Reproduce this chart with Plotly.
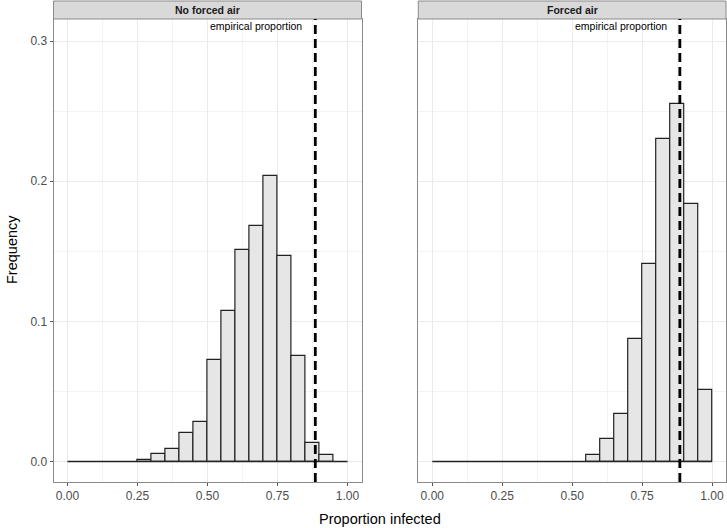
import plotly.graph_objects as go

bin_width = 0.05
bin_left_edges = [round(i * bin_width, 2) for i in range(20)]
freq_no_forced = [0, 0, 0, 0, 0, 0.0012, 0.0053, 0.0093, 0.0203, 0.0284,
                  0.0726, 0.1076, 0.151, 0.168, 0.204, 0.1467, 0.0755, 0.0134, 0.0046, 0]
freq_forced = [0, 0, 0, 0, 0, 0, 0, 0, 0, 0,
               0, 0.0048, 0.0164, 0.0336, 0.0876, 0.141, 0.230, 0.2553, 0.1838, 0.051]
empirical = 0.885
panel_titles = ["No forced air", "Forced air"]
x_ticks = [0, 0.25, 0.5, 0.75, 1.0]
x_tick_labels = ["0.00", "0.25", "0.50", "0.75", "1.00"]
y_ticks = [0, 0.1, 0.2, 0.3]
y_tick_labels = ["0.0", "0.1", "0.2", "0.3"]

W, H = 727, 528
fig = go.Figure()

panels = [(freq_no_forced, "x", "y"), (freq_forced, "x2", "y2")]
for freqs, xa, ya in panels:
    xs = [e + bin_width / 2 for e, f in zip(bin_left_edges, freqs) if f > 0]
    ys = [f for f in freqs if f > 0]
    fig.add_trace(go.Scatter(x=[bin_left_edges[0], bin_left_edges[-1] + bin_width], y=[0, 0],
                             mode="lines", line=dict(color="#222222", width=1.4),
                             xaxis=xa, yaxis=ya, showlegend=False, hoverinfo="skip"))
    fig.add_trace(go.Bar(x=xs, y=ys, width=bin_width,
                         marker=dict(color="#e6e6e6", line=dict(color="#222222", width=1.2)),
                         xaxis=xa, yaxis=ya, showlegend=False))

def px_x(p):
    return p / W

def px_y(p):
    return 1 - p / H

x_dom1 = [px_x(53.5), px_x(361.5)]
x_dom2 = [px_x(418.3), px_x(726)]
y_dom = [px_y(482), px_y(19)]

tick_font = dict(family="Liberation Sans, Arial", size=12, color="#4d4d4d")
common_x = dict(range=[-0.05, 1.05], tickvals=x_ticks, ticktext=x_tick_labels,
                showgrid=True, gridcolor="#ebebeb", gridwidth=1,
                minor=dict(dtick=0.125, tick0=0.125, showgrid=True, gridcolor="#f3f3f3", gridwidth=0.7),
                ticks="outside", ticklen=3, tickcolor="#555555", tickfont=tick_font,
                showline=True, linecolor="#8a8a8a", linewidth=1, mirror=True, zeroline=False)
common_y = dict(range=[-0.0146, 0.3157], tickvals=y_ticks, ticktext=y_tick_labels,
                showgrid=True, gridcolor="#ebebeb", gridwidth=1,
                minor=dict(dtick=0.05, tick0=0.05, showgrid=True, gridcolor="#f3f3f3", gridwidth=0.7),
                ticks="outside", ticklen=3, tickcolor="#555555", tickfont=tick_font,
                showline=True, linecolor="#8a8a8a", linewidth=1, mirror=True, zeroline=False,
                domain=y_dom)

fig.update_layout(
    width=W, height=H,
    margin=dict(l=0, r=0, t=0, b=0),
    paper_bgcolor="white", plot_bgcolor="white",
    bargap=0,
    xaxis=dict(common_x, domain=x_dom1, anchor="y"),
    xaxis2=dict(common_x, domain=x_dom2, anchor="y2"),
    yaxis=dict(common_y, anchor="x"),
    yaxis2=dict(common_y, anchor="x2", showticklabels=False, ticks=""),
    font=dict(family="Liberation Sans, Arial", color="black"),
)

# strips
for dom, title in zip([x_dom1, x_dom2], panel_titles):
    fig.add_shape(type="rect", xref="paper", yref="paper",
                  x0=dom[0], x1=dom[1], y0=y_dom[1], y1=px_y(1),
                  fillcolor="#d9d9d9", line=dict(color="#8a8a8a", width=1), layer="above")
    fig.add_annotation(xref="paper", yref="paper", x=(dom[0] + dom[1]) / 2,
                       y=(y_dom[1] + px_y(1)) / 2, text="<b>" + title + "</b>", showarrow=False,
                       font=dict(size=10.5, color="#1a1a1a"), xanchor="center", yanchor="middle")

# empirical lines + labels
for xa, ya in [("x", "y"), ("x2", "y2")]:
    fig.add_shape(type="line", xref=xa, yref=ya + " domain", x0=empirical, x1=empirical, y0=0, y1=1,
                  line=dict(color="black", width=2.8, dash="9px,5px"), layer="above")
    fig.add_annotation(xref=xa, yref=ya, x=empirical - 0.04, y=0.311, text="empirical proportion",
                       showarrow=False, xanchor="right", yanchor="middle",
                       font=dict(size=10.5, color="black"))

fig.add_annotation(xref="paper", yref="paper", x=px_x(380), y=px_y(519),
                   text="Proportion infected", showarrow=False,
                   font=dict(size=14.5, color="black"), xanchor="center", yanchor="middle")
fig.add_annotation(xref="paper", yref="paper", x=px_x(12), y=px_y(250),
                   text="Frequency", showarrow=False, textangle=-90,
                   font=dict(size=14.5, color="black"), xanchor="center", yanchor="middle")

fig.write_html("out.html", config={"displayModeBar": False},
               post_script="document.body.style.margin='0';document.body.style.overflow='hidden';")
